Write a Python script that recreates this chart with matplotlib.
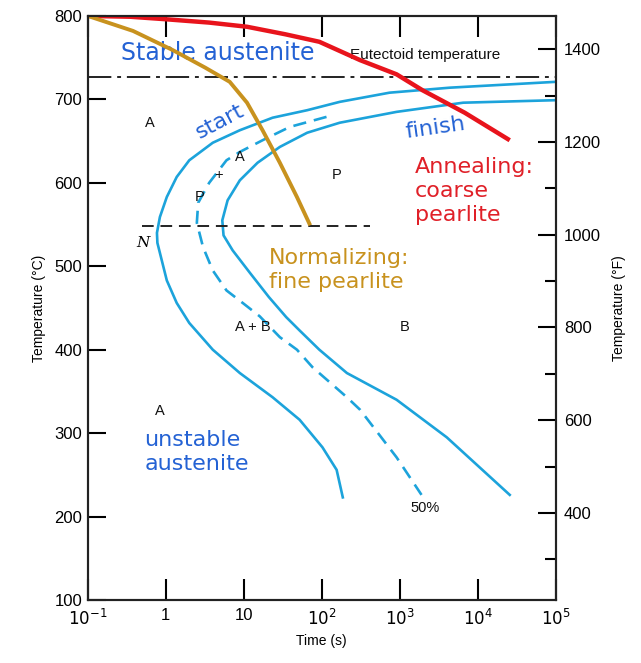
import matplotlib
matplotlib.use("Agg")
import matplotlib.pyplot as plt
from matplotlib.ticker import FixedLocator, NullFormatter

# Courbes du diagramme TTT (temps en s, température en °C)
start_t = [1e5, 4400, 740, 170, 65, 23.4, 8.9, 4.0, 2.0, 1.38, 1.03, 0.84, 0.77, 0.78, 0.84,
           1.03, 1.38, 2.0, 4.0, 8.9, 23.4, 52, 102, 155, 186]
start_T = [721, 714, 708, 697, 687, 678, 663, 648, 627, 607, 583, 559, 540, 528, 516,
           483, 456, 432, 400, 372, 343, 316, 283, 256, 223]

half_t = [115, 39, 17.4, 8.9, 6.0, 3.6, 2.6, 2.5, 3.0, 4.0, 6.0, 10, 16, 29, 48, 76, 210, 310, 910, 1900]
half_T = [679, 667, 651, 637, 627, 600, 576, 552, 523, 495, 471, 455, 440, 415, 400, 379, 343, 328, 271, 226]

finish_t = [1e5, 6500, 910, 170, 65, 29, 15, 8.9, 6.2, 5.3, 5.5, 7.2, 12, 21, 35, 52, 93, 210,
            910, 4000, 25700]
finish_T = [699, 696, 685, 672, 660, 643, 624, 603, 579, 555, 537, 519, 492, 463, 439, 423, 400, 372,
            340, 295, 226]

anneal_t = [0.1, 0.35, 1.0, 3.6, 11, 34, 93, 310, 910, 1950, 6800, 25700]
anneal_T = [800, 799, 796, 792, 787, 778, 769, 747, 730, 711, 684, 651]

norm_t = [0.1, 0.38, 1.23, 3.2, 6.6, 11, 17.4, 29, 48, 71]
norm_T = [800, 782, 759, 738, 721, 696, 663, 624, 583, 549]

eutectoid_T = 727
nose_T = 548
nose_t = [0.49, 415]

x_ticks = [0.1, 1, 10, 100, 1e3, 1e4, 1e5]
x_labels = ["$10^{-1}$", "1", "10", "$10^2$", "$10^3$", "$10^4$", "$10^5$"]
c_ticks = [100, 200, 300, 400, 500, 600, 700, 800]
f_major = [400, 600, 800, 1000, 1200, 1400]
f_minor = [300, 500, 700, 900, 1100, 1300]

blue = "#1ca3db"
txt_blue = "#2462d4"
red = "#e8141c"
gold = "#c8921e"

plt.rcParams["font.family"] = ["Liberation Sans", "DejaVu Sans"]

fig = plt.figure(figsize=(6.41, 6.63), dpi=100)
ax = fig.add_axes([0.137, 0.095, 0.73, 0.881])

ax.plot(start_t, start_T, color=blue, lw=1.9, solid_joinstyle="round")
ax.plot(finish_t, finish_T, color=blue, lw=1.9, solid_joinstyle="round")
ax.plot(half_t, half_T, color=blue, lw=1.9, dashes=(5, 3))
ax.plot(anneal_t, anneal_T, color=red, lw=3.2, solid_capstyle="butt", solid_joinstyle="round", zorder=4)
ax.plot(norm_t, norm_T, color=gold, lw=2.8, solid_capstyle="butt", solid_joinstyle="round", zorder=4)

ax.axhline(eutectoid_T, color="#222222", lw=1.4, dashes=(12, 3, 2, 3))
ax.plot(nose_t, [nose_T, nose_T], color="#222222", lw=1.4, dashes=(6, 3.5))

ax.set_xscale("log")
ax.set_xlim(0.1, 1e5)
ax.set_ylim(100, 800)
ax.set_xticks(x_ticks)
ax.set_xticklabels(x_labels, fontsize=12)
ax.xaxis.set_minor_locator(FixedLocator([]))
ax.set_yticks(c_ticks)
ax.tick_params(axis="y", direction="in", length=13, width=1.5, labelsize=12, pad=4)
ax.tick_params(axis="x", direction="in", length=15, width=1.5, top=True, pad=6)
for s in ax.spines.values():
    s.set_linewidth(1.5)
    s.set_color("#222222")

ax.set_xlabel("Time (s)", fontsize=10)
ax.set_ylabel("Temperature (°C)", fontsize=10, labelpad=6)

axf = ax.twinx()
axf.set_ylim(100 * 1.8 + 32, 800 * 1.8 + 32)
axf.set_yticks(f_major)
axf.yaxis.set_minor_locator(FixedLocator(f_minor))
axf.yaxis.set_minor_formatter(NullFormatter())
axf.tick_params(axis="y", which="major", direction="in", length=13, width=1.5, labelsize=12, pad=6)
axf.tick_params(axis="y", which="minor", direction="in", length=8, width=1.5)
axf.set_ylabel("Temperature (°F)", fontsize=10, labelpad=8)
for s in axf.spines.values():
    s.set_linewidth(1.5)
    s.set_color("#222222")

# Annotations colorées
ann = dict(family="DejaVu Sans", fontsize=16)
ax.text(0.27, 756, "Stable austenite", color=txt_blue, va="center", ha="left",
        family="DejaVu Sans", fontsize=17)
ax.text(4.9, 673, "start", color=txt_blue, va="center", ha="center", rotation=28, **ann)
ax.text(2900, 666, "finish", color=txt_blue, va="center", ha="center", rotation=8, **ann)
ax.text(1550, 590, "Annealing:\ncoarse\npearlite", color="#e02028", va="center", ha="left",
        linespacing=1.25, **ann)
ax.text(21, 495, "Normalizing:\nfine pearlite", color=gold, va="center", ha="left",
        linespacing=1.25, **ann)
ax.text(0.53, 277, "unstable\naustenite", color=txt_blue, va="center", ha="left",
        linespacing=1.25, **ann)

# Étiquettes des phases
lab = dict(fontsize=10.5, color="#111111", ha="center", va="center")
ax.text(0.62, 672, "A", **lab)
ax.text(8.9, 631, "A", **lab)
ax.text(4.7, 609, "+", **lab)
ax.text(2.75, 583, "P", **lab)
ax.text(155, 609, "P", **lab)
ax.text(13, 427, "A + B", **lab)
ax.text(1150, 427, "B", **lab)
ax.text(0.83, 327, "A", **lab)
ax.text(2100, 210, "50%", **lab)
ax.text(0.51, 528, "N", fontsize=11, style="italic", family="DejaVu Serif", ha="center", va="center")
ax.text(200, 753, "-Eutectoid temperature", fontsize=11, color="#111111", ha="left", va="center")

fig.savefig("out.png", dpi=100)
